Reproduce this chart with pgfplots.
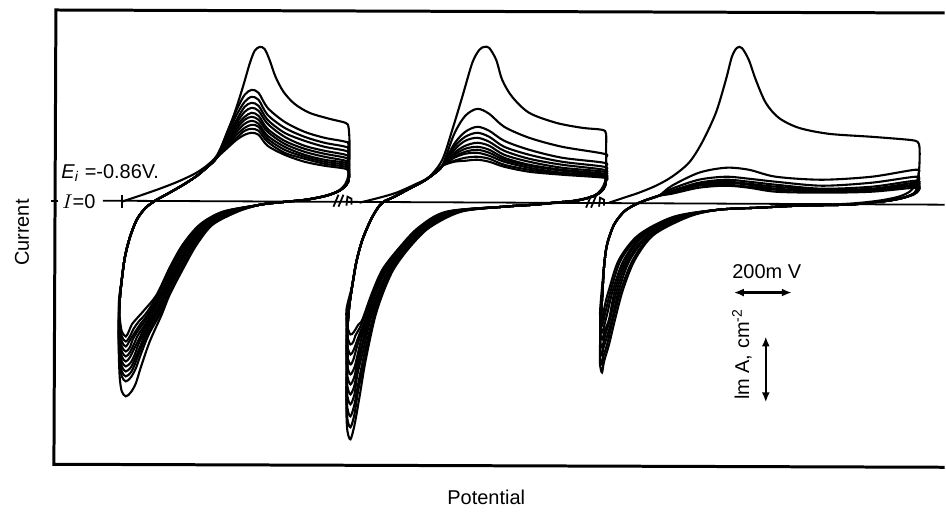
\documentclass[border=0pt]{standalone}
\usepackage{fontspec}
\setmainfont{Liberation Sans}
\usepackage{pgfplots}
\pgfplotsset{compat=1.18}
\usetikzlibrary{arrows.meta}
\pgfplotsset{cv/.style={black, line width=1.05pt, smooth, tension=0.5, mark=none}}
\begin{document}
\begin{tikzpicture}
\begin{axis}[scale only axis, width=473pt, height=254pt, xmin=0, xmax=946, ymin=0, ymax=508,
  y dir=reverse, hide axis, clip=false]
\addplot[draw=none] coordinates {(0,0) (946,508)};
% frame
\addplot[black, line width=1.5pt] coordinates {(946,13) (56,10) (54,465) (946,468)};
% I = 0 line and marks
\addplot[black, line width=0.9pt] coordinates {(103,201) (946,205)};
\addplot[black, line width=0.9pt] coordinates {(122,195) (122,208)};
\addplot[black, line width=0.9pt] coordinates {(51,201) (58,201)};
\addplot[black, line width=0.9pt] coordinates {(334,207) (339,195)};
\addplot[black, line width=0.9pt] coordinates {(339,207) (344,195)};
\addplot[black, line width=0.9pt] coordinates {(347,206) (348,197) (352,199) (352,205)};
\addplot[black, line width=0.9pt] coordinates {(587,208) (592,196)};
\addplot[black, line width=0.9pt] coordinates {(592,208) (597,196)};
\addplot[black, line width=0.9pt] coordinates {(600,207) (601,198) (605,200) (605,206)};
% ================= CV 1 =================
\addplot[cv] coordinates {(122,202) (140,196) (160,189) (178,182) (195,174) (207,166) (217,156) (226,137) (235,113) (243,88) (250,64) (255,51) (260,47) (265,49) (270,60) (276,77) (284,92) (295,104) (310,113) (330,119) (346,123) (349,127) (350,140) (350,160) (349,175) (346,184) (339,191) (326,196) (306,200) (286,202) (267,204) (258,205.5) (238,212) (213,225) (197,245) (184,268) (170,295) (162,315) (150,342) (141,368) (136,384) (131,393) (126,397) (122,392) (120,379) (119,355) (119,330) (120,300) (122,280) (125,258) (130,238) (137,220) (146,208) (157,200)};
\addplot[cv] coordinates {(157,200) (168,194) (182,186) (196,177) (208,167) (217,158) (228,131) (237,110) (245,95) (252,90) (259,93) (268,108) (285,122) (305,132) (325,138) (346,142) (349,146) (349.5,178) (347,185) (340,191) (327,196) (307,200) (287,202) (267,204) (258,205.5) (236.5,212) (212,225) (196,245) (183,268) (169,295) (160,315) (149,335) (141,355) (136,369) (131,378) (126,382) (122,377) (120,364) (119,345) (119,330) (120,300) (122,280) (125,258) (130,238) (137,220) (146,208) (157,200)};
\addplot[cv] coordinates {(157,200) (168,194) (182,186) (196,177) (208,167) (217,158) (228,134) (237,115) (245,102) (252,97) (259,100) (268,115) (285,128) (305,137) (325,143) (346,147) (349,151) (349.5,178) (347,185) (340,191) (327,196) (307,200) (287,202) (267,204) (258,205.5) (235,212) (210,225) (194,245) (181,268) (167,295) (159,315) (148,333) (140,352) (135,365) (131,373) (126,377) (122,372) (120,359) (119,340) (119,320) (120,300) (122,280) (125,258) (130,238) (137,220) (146,208) (157,200)};
\addplot[cv] coordinates {(157,200) (168,194) (182,186) (196,177) (208,167) (217,158) (228,136) (237,120) (245,107) (252,103) (259,106) (268,120) (285,133) (305,141) (325,147) (346,151) (349,155) (349.5,178) (347,185) (340,191) (327,196) (307,200) (287,202) (267,204) (258,205.5) (233.5,212) (209,225) (193,245) (180,268) (166,295) (157,315) (147,331) (140,348) (135,360) (131,368) (126,372) (122,367) (120,354) (119,335) (119,318) (120,300) (122,280) (125,258) (130,238) (137,220) (146,208) (157,200)};
\addplot[cv] coordinates {(157,200) (168,194) (182,186) (196,177) (208,167) (217,158) (228,138) (237,123) (245,112) (252,108) (259,111) (268,124) (285,137) (305,146) (325,151) (346,155) (349,159) (349.5,178) (347,185) (340,191) (327,196) (307,200) (287,202) (267,204) (258,205.5) (232,212) (208,225) (191,245) (178,268) (165,295) (155,315) (146,330) (139,344) (135,355) (131,363) (126,367) (122,362) (120,349) (119,330) (120,300) (122,280) (125,258) (130,238) (137,220) (146,208) (157,200)};
\addplot[cv] coordinates {(157,200) (168,194) (182,186) (196,177) (208,167) (217,158) (228,140) (237,126) (245,117) (252,113) (259,116) (268,129) (285,141) (305,149) (325,154) (346,158) (349,162) (349.5,178) (347,185) (340,191) (327,196) (307,200) (287,202) (267,204) (258,205.5) (230.5,212) (207,225) (190,245) (177,268) (164,295) (154,315) (145,328) (139,340) (134,350) (130,358) (126,362) (122,357) (120,344) (119,325) (120,300) (122,280) (125,258) (130,238) (137,220) (146,208) (157,200)};
\addplot[cv] coordinates {(157,200) (168,194) (182,186) (196,177) (208,167) (217,158) (228,142) (237,129) (245,120) (252,117) (259,120) (268,132) (285,144) (305,152) (325,157) (346,161) (349,165) (349.5,178) (347,185) (340,191) (327,196) (307,200) (287,202) (267,204) (258,205.5) (229,212) (205,225) (189,245) (176,268) (162,295) (152,315) (144,327) (138,336) (134,345) (130,353) (126,357) (122,352) (120,339) (119,320) (120,300) (122,280) (125,258) (130,238) (137,220) (146,208) (157,200)};
\addplot[cv] coordinates {(157,200) (168,194) (182,186) (196,177) (208,167) (217,158) (228,143) (237,132) (245,124) (252,121) (259,124) (268,136) (285,147) (305,155) (325,160) (346,163) (349,167) (349.5,178) (347,185) (340,191) (327,196) (307,200) (287,202) (267,204) (258,205.5) (227.5,212) (204,225) (187,245) (174,268) (161,295) (150,315) (142,326) (137,333) (133,340) (130,348) (126,352) (122,347) (120,334) (119,315) (120,300) (122,280) (125,258) (130,238) (137,220) (146,208) (157,200)};
\addplot[cv] coordinates {(157,200) (168,194) (182,186) (196,177) (208,167) (217,158) (228,145) (237,135) (245,128) (252,125) (259,127) (268,139) (285,150) (305,157) (325,162) (346,165) (349,169) (349.5,178) (347,185) (340,191) (327,196) (307,200) (287,202) (267,204) (258,205.5) (226,212) (203,225) (186,245) (173,268) (160,295) (148,315) (141,324) (135,333) (130,341) (126,347) (122,342) (120,329) (119,312) (120,298) (122,280) (125,258) (130,238) (137,220) (146,208) (157,200)};
\addplot[cv] coordinates {(157,200) (168,194) (182,186) (196,177) (208,167) (217,158) (228,146) (237,138) (245,131) (252,129) (259,131) (268,142) (285,153) (305,159) (325,164) (346,167) (349,171) (349.5,178) (347,185) (340,191) (327,196) (307,200) (287,202) (267,204) (258,205.5) (224.5,212) (201,225) (184,245) (171,268) (158,295) (147,313) (139,322) (134,329) (130,337) (126,342) (122,337) (120,324) (119,308) (120,295) (122,280) (125,258) (130,238) (137,220) (146,208) (157,200)};
\addplot[cv] coordinates {(157,200) (168,194) (182,186) (196,177) (208,167) (217,158) (228,148) (237,140) (245,135) (252,133) (259,135) (268,146) (285,155) (305,162) (325,166) (346,169) (349,173) (349.5,178) (347,185) (340,191) (327,196) (307,200) (287,202) (267,204) (258,205.5) (223,212) (200,225) (183,245) (170,268) (157,295) (145,310) (137,319) (132,325) (129,332) (126,337) (122,332) (120,319) (119,305) (120,293) (122,280) (125,258) (130,238) (137,220) (146,208) (157,200)};
% ================= CV 2 =================
\addplot[cv] coordinates {(360,203) (380,198) (397,193) (415,185) (430,177) (443,160) (453,130) (463,97) (473,63) (480,50) (485,47) (490,48) (497,60) (503,80) (513,97) (530,113) (557,123) (583,128) (603,130) (607,134) (607,150) (607,170) (606,182) (602,190) (595,196) (580,200) (560,203) (535,205) (505,207) (462,212) (430,228) (410,248) (394,270) (383,295) (375,320) (366,362) (360,398) (355,426) (351,440) (348,432) (347,415) (347,390) (348,360) (348,330) (350,305) (353,285) (357,262) (363,240) (372,219) (380,206) (386,201)};
\addplot[cv] coordinates {(386,201) (395,197) (410,189) (425,181) (436,173) (443,166) (455,134) (466,116) (478,109) (490,114) (505,127) (530,138) (563,147) (605,154) (607,158) (607,175) (606,186) (602,192) (593,197) (577,201) (555,203) (535,205) (505,207) (460,212) (429,228) (409,248) (393,270) (382,295) (374,320) (366,358) (359,390) (355,415) (351,428) (348,420) (347,403) (347,390) (348,360) (348,330) (350,305) (353,285) (357,262) (363,240) (372,219) (380,206) (386,201)};
\addplot[cv] coordinates {(386,201) (395,197) (410,189) (425,181) (436,173) (443,166) (455,144) (466,132) (478,127) (490,131) (505,141) (530,150) (563,158) (605,163) (607,167) (607,178) (606,186) (602,192) (593,197) (577,201) (555,203) (535,205) (505,207) (459,212) (428,228) (408,248) (392,270) (381,295) (373,320) (365,354) (359,383) (355,405) (351,417) (348,409) (347,392) (348,360) (348,330) (350,305) (353,285) (357,262) (363,240) (372,219) (380,206) (386,201)};
\addplot[cv] coordinates {(386,201) (395,197) (410,189) (425,181) (436,173) (443,166) (455,147) (466,137) (478,133) (490,137) (505,147) (530,155) (563,162) (605,167) (607,171) (606,186) (602,192) (593,197) (577,201) (555,203) (535,205) (505,207) (458,212) (427,228) (407,248) (391,270) (380,295) (371,320) (364,350) (358,375) (355,395) (351,405) (348,397) (347,380) (348,360) (348,330) (350,305) (353,285) (357,262) (363,240) (372,219) (380,206) (386,201)};
\addplot[cv] coordinates {(386,201) (395,197) (410,189) (425,181) (436,173) (443,166) (455,150) (466,141) (478,138) (490,142) (505,151) (530,159) (563,165) (605,170) (607,174) (606,186) (602,192) (593,197) (577,201) (555,203) (535,205) (505,207) (456,212) (426,228) (406,248) (390,270) (379,295) (370,320) (363,346) (358,369) (355,386) (351,395) (348,387) (347,370) (348,330) (350,305) (353,285) (357,262) (363,240) (372,219) (380,206) (386,201)};
\addplot[cv] coordinates {(386,201) (395,197) (410,189) (425,181) (436,173) (443,166) (455,153) (466,146) (478,143) (490,146) (505,155) (530,162) (563,168) (605,172) (607,176) (606,186) (602,192) (593,197) (577,201) (555,203) (535,205) (505,207) (455,212) (425,228) (405,248) (389,270) (378,295) (369,320) (363,343) (358,362) (355,377) (351,385) (348,377) (347,360) (348,330) (350,305) (353,285) (357,262) (363,240) (372,219) (380,206) (386,201)};
\addplot[cv] coordinates {(386,201) (395,197) (410,189) (425,181) (436,173) (443,166) (455,155) (466,149) (478,147) (490,150) (505,158) (530,165) (563,170) (605,174) (607,178) (606,186) (602,192) (593,197) (577,201) (555,203) (535,205) (505,207) (453,212) (423,228) (404,248) (387,270) (376,295) (368,320) (362,339) (358,356) (355,368) (351,375) (348,367) (347,350) (348,330) (350,305) (353,285) (357,262) (363,240) (372,219) (380,206) (386,201)};
\addplot[cv] coordinates {(386,201) (395,197) (410,189) (425,181) (436,173) (443,166) (455,157) (466,152) (478,150) (490,153) (505,160) (530,166) (563,171) (605,175) (607,179) (606,186) (602,192) (593,197) (577,201) (555,203) (535,205) (505,207) (452,212) (422,228) (403,248) (386,270) (375,295) (367,320) (361,336) (357,349) (354,360) (351,365) (348,357) (347,340) (350,305) (353,285) (357,262) (363,240) (372,219) (380,206) (386,201)};
\addplot[cv] coordinates {(386,201) (395,197) (410,189) (425,181) (436,173) (443,166) (455,158) (466,154) (478,153) (490,156) (505,162) (530,168) (563,173) (605,176) (607,180) (606,186) (602,192) (593,197) (577,201) (555,203) (535,205) (505,207) (450,212) (421,228) (402,248) (385,270) (374,295) (366,320) (361,332) (357,343) (354,351) (351,355) (348,347) (347,330) (350,305) (353,285) (357,262) (363,240) (372,219) (380,206) (386,201)};
\addplot[cv] coordinates {(386,201) (395,197) (410,189) (425,181) (436,173) (443,166) (455,161) (466,158) (478,157) (490,159) (505,165) (530,170) (563,174) (605,177) (607,181) (606,186) (602,192) (593,197) (577,201) (555,203) (535,205) (505,207) (449,212) (420,228) (401,248) (384,270) (373,295) (364,320) (360,329) (356,336) (354,342) (351,345) (348,337) (347,320) (350,305) (353,285) (357,262) (363,240) (372,219) (380,206) (386,201)};
\addplot[cv] coordinates {(386,201) (395,197) (410,189) (425,181) (436,173) (443,166) (455,162) (466,161) (478,160) (490,162) (505,167) (530,172) (563,175) (605,178) (607,181) (606,186) (602,192) (593,197) (577,201) (555,203) (535,205) (505,207) (447,212) (419,228) (400,248) (383,270) (372,295) (363,320) (359,325) (356,330) (354,333) (351,335) (348,327) (347,310) (353,285) (357,262) (363,240) (372,219) (380,206) (386,201)};
% ================= CV 3 =================
\addplot[cv] coordinates {(610,203) (625,198) (640,193) (657,186) (673,177) (690,163) (703,143) (717,113) (727,80) (733,57) (738,48) (743,48) (750,60) (757,80) (767,103) (780,118) (800,128) (830,134) (873,137) (910,140) (919,142) (921,148) (921,162) (920,175) (917,185) (911,192) (900,197) (880,201) (850,204) (800,206) (760,208) (720,210) (690,217) (655,235) (636,260) (624,290) (616,320) (610,345) (605,362) (603,373) (601,365) (601,345) (602,320) (603,300) (605,267) (608,245) (615,225) (625,212) (636,205) (648,200)};
\addplot[cv] coordinates {(648,200) (660,196) (673,186) (700,173) (727,168) (750,170) (777,177) (823,180) (873,177) (917,170) (920,174) (920,186) (915,194) (905,198) (890,201) (870,203) (850,205) (800,206) (760,208) (720,210) (688,217) (653,235) (634,260) (622,290) (614,320) (608,345) (604,358) (603,365) (601,357) (602,320) (603,300) (605,267) (608,245) (615,225) (625,212) (636,205) (648,200)};
\addplot[cv] coordinates {(648,200) (660,196) (673,189) (700,180) (727,177) (750,179) (777,182) (823,186) (873,183) (917,177) (920,181) (920,188) (915,194) (905,198) (890,201) (870,203) (850,205) (800,206) (760,208) (720,210) (686,217) (651,235) (631,260) (620,290) (613,320) (607,340) (604,350) (603,356) (601,348) (602,320) (603,300) (605,267) (608,245) (615,225) (625,212) (636,205) (648,200)};
\addplot[cv] coordinates {(648,200) (660,196) (673,191) (700,183) (727,180) (750,182) (777,185) (823,189) (873,187) (917,181) (920,185) (915,194) (905,198) (890,201) (870,203) (850,205) (800,206) (760,208) (720,210) (684,217) (649,235) (629,260) (618,290) (611,320) (606,336) (603,348) (601,340) (602,320) (603,300) (605,267) (608,245) (615,225) (625,212) (636,205) (648,200)};
\addplot[cv] coordinates {(648,200) (660,196) (673,192) (700,184) (727,182) (750,184) (777,187) (823,190) (873,189) (917,183) (920,187) (915,194) (905,198) (890,201) (870,203) (850,205) (800,206) (760,208) (720,210) (681,217) (646,235) (627,260) (616,290) (610,320) (606,330) (603,340) (601,332) (603,300) (605,267) (608,245) (615,225) (625,212) (636,205) (648,200)};
\addplot[cv] coordinates {(648,200) (660,196) (673,193) (700,185) (727,183) (750,185) (777,189) (823,191) (873,190) (917,185) (920,189) (915,194) (905,198) (890,201) (870,203) (850,205) (800,206) (760,208) (720,210) (679,217) (644,235) (625,260) (614,290) (608,315) (603,333) (601,325) (603,300) (605,267) (608,245) (615,225) (625,212) (636,205) (648,200)};
\addplot[cv] coordinates {(648,200) (660,196) (673,193) (700,186) (727,185) (750,187) (777,190) (823,192) (873,191) (917,186) (920,190) (915,194) (905,198) (890,201) (870,203) (850,205) (800,206) (760,208) (720,210) (677,217) (642,235) (622,260) (612,290) (607,310) (603,326) (601,318) (603,300) (605,267) (608,245) (615,225) (625,212) (636,205) (648,200)};
\addplot[cv] coordinates {(648,200) (660,196) (673,194) (700,188) (727,186) (750,188) (777,192) (823,193) (873,192) (917,188) (920,191) (915,195) (905,198) (890,201) (870,203) (850,205) (800,206) (760,208) (720,210) (675,217) (640,235) (620,260) (610,290) (606,305) (603,320) (601,312) (605,267) (608,245) (615,225) (625,212) (636,205) (648,200)};
% scale arrows
\addplot[black, line width=1.2pt, {Latex[length=5pt,width=4pt]}-{Latex[length=5pt,width=4pt]}] coordinates {(735,293) (793,293)};
\addplot[black, line width=1.2pt, {Latex[length=5pt,width=4pt]}-{Latex[length=5pt,width=4pt]}] coordinates {(767,337) (767,403)};
% texts
\node[rotate=90] at (axis cs:22,233) {Current};
\node at (axis cs:487,498) {Potential};
\node at (axis cs:768,272) {200m V};
\node[rotate=90] at (axis cs:743,355) {lm A, cm\textsuperscript{-2}};
\node[anchor=west, inner sep=0pt] at (axis cs:61,173) {\textit{E}\textsubscript{\textit{i}} =-0.86V.};
\node[anchor=west, inner sep=0pt] at (axis cs:62,202) {$I$=0};
\end{axis}
\end{tikzpicture}
\end{document}
